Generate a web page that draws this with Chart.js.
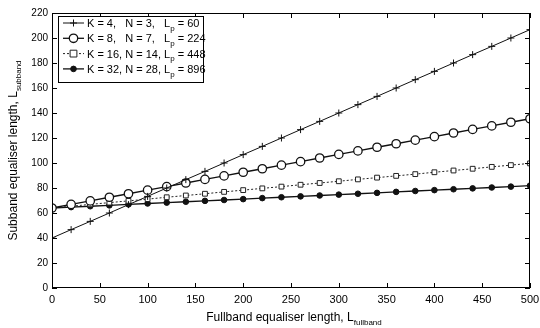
<!DOCTYPE html>
<html>
<head>
<meta charset="utf-8">
<script src="https://cdn.jsdelivr.net/npm/chart.js@4.4.1/dist/chart.umd.min.js"></script>
<style>
  html, body { margin: 0; padding: 0; background: #fff; }
  #wrap { width: 540px; height: 328px; }
</style>
</head>
<body>
<div id="wrap"><canvas id="myChart" width="540" height="328"></canvas></div>
<script>
// fullband equaliser length (x)
const fullband = [0, 20, 40, 60, 80, 100, 120, 140, 160, 180, 200, 220, 240, 260, 280, 300, 320, 340, 360, 380, 400, 420, 440, 460, 480, 500];

// subband equaliser length for each configuration
const k4 = [40, 46.7, 53.3, 60, 66.7, 73.3, 80, 86.7, 93.3, 100, 106.7, 113.3, 120, 126.7, 133.3, 140, 146.7, 153.3, 160, 166.7, 173.3, 180, 186.7, 193.3, 200, 206.7];
const k8 = [64, 66.9, 69.7, 72.6, 75.4, 78.3, 81.1, 84, 86.9, 89.7, 92.6, 95.4, 98.3, 101.1, 104, 106.9, 109.7, 112.6, 115.4, 118.3, 121.1, 124, 126.9, 129.7, 132.6, 135.4];
const k16 = [64, 65.4, 66.9, 68.3, 69.7, 71.1, 72.6, 74, 75.4, 76.9, 78.3, 79.7, 81.1, 82.6, 84, 85.4, 86.9, 88.3, 89.7, 91.1, 92.6, 94, 95.4, 96.9, 98.3, 99.7];
const k32 = [64, 64.7, 65.4, 66.1, 66.9, 67.6, 68.3, 69, 69.7, 70.4, 71.1, 71.9, 72.6, 73.3, 74, 74.7, 75.4, 76.1, 76.9, 77.6, 78.3, 79, 79.7, 80.4, 81.1, 81.9];

// legend text: [main, subscript, rest]
const legendLabels = [
    ['K = 4,   N = 3,   L', 'p', ' = 60'],
    ['K = 8,   N = 7,   L', 'p', ' = 224'],
    ['K = 16, N = 14, L', 'p', ' = 448'],
    ['K = 32, N = 28, L', 'p', ' = 896']
];

const xTitle = ['Fullband equaliser length, L', 'fullband'];
const yTitle = ['Subband equaliser length, L', 'subband'];

const FONT = '"Liberation Sans", Arial, sans-serif';

function toPoints(ys) {
    return fullband.map(function (x, i) { return { x: x, y: ys[i] }; });
}

const data = {
    datasets: [{
        data: toPoints(k4),
        borderColor: '#111',
        backgroundColor: '#111',
        borderWidth: 1,
        pointStyle: 'cross',
        pointRadius: 3.5,
        pointBorderWidth: 1
    }, {
        data: toPoints(k8),
        borderColor: '#111',
        backgroundColor: '#fff',
        borderWidth: 1.3,
        pointStyle: 'circle',
        pointRadius: 4.2,
        pointBorderWidth: 1.3
    }, {
        data: toPoints(k16),
        borderColor: '#222',
        backgroundColor: '#fff',
        borderWidth: 1,
        borderDash: [2, 2],
        pointStyle: 'rect',
        pointRadius: 3.4,
        pointBorderWidth: 1
    }, {
        data: toPoints(k32),
        borderColor: '#111',
        backgroundColor: '#111',
        borderWidth: 1.3,
        pointStyle: 'circle',
        pointRadius: 2.8,
        pointBorderWidth: 1
    }]
};

function drawMarker(ctx, ds, x, y) {
    ctx.save();
    ctx.setLineDash([]);
    ctx.lineWidth = ds.pointBorderWidth;
    ctx.strokeStyle = ds.borderColor;
    ctx.fillStyle = ds.backgroundColor;
    const r = ds.pointRadius;
    ctx.beginPath();
    if (ds.pointStyle === 'cross') {
        ctx.moveTo(x - r, y); ctx.lineTo(x + r, y);
        ctx.moveTo(x, y - r); ctx.lineTo(x, y + r);
        ctx.stroke();
    } else if (ds.pointStyle === 'rect') {
        ctx.rect(x - r, y - r, 2 * r, 2 * r);
        ctx.fill(); ctx.stroke();
    } else {
        ctx.arc(x, y, r, 0, Math.PI * 2);
        ctx.fill(); ctx.stroke();
    }
    ctx.restore();
}

// text with a subscript, drawn starting at x (left aligned, alphabetic baseline)
function subText(ctx, parts, x, y, size, subSize) {
    ctx.font = size + 'px ' + FONT;
    ctx.fillText(parts[0], x, y);
    let w = ctx.measureText(parts[0]).width;
    ctx.font = subSize + 'px ' + FONT;
    ctx.fillText(parts[1], x + w, y + subSize * 0.45);
    w += ctx.measureText(parts[1]).width;
    if (parts[2]) {
        ctx.font = size + 'px ' + FONT;
        ctx.fillText(parts[2], x + w, y);
        w += ctx.measureText(parts[2]).width;
    }
    return w;
}

function subWidth(ctx, parts, size, subSize) {
    ctx.font = size + 'px ' + FONT;
    let w = ctx.measureText(parts[0]).width;
    ctx.font = subSize + 'px ' + FONT;
    w += ctx.measureText(parts[1]).width;
    return w;
}

const framePlugin = {
    id: 'frame',
    afterDraw: function (chart) {
        const ctx = chart.ctx;
        const a = chart.chartArea;
        const xs = chart.scales.x, ys = chart.scales.y;
        ctx.save();
        ctx.strokeStyle = '#000';
        ctx.lineWidth = 1;
        ctx.setLineDash([]);
        ctx.strokeRect(a.left + 0.5, a.top + 0.5, a.right - a.left - 1, a.bottom - a.top - 1);

        // inward ticks on all four sides
        ctx.beginPath();
        xs.ticks.forEach(function (t) {
            const px = Math.round(xs.getPixelForValue(t.value)) + 0.5;
            ctx.moveTo(px, a.bottom); ctx.lineTo(px, a.bottom - 5);
            ctx.moveTo(px, a.top); ctx.lineTo(px, a.top + 5);
        });
        ys.ticks.forEach(function (t) {
            const py = Math.round(ys.getPixelForValue(t.value)) + 0.5;
            ctx.moveTo(a.left, py); ctx.lineTo(a.left + 5, py);
            ctx.moveTo(a.right, py); ctx.lineTo(a.right - 5, py);
        });
        ctx.stroke();

        // legend box
        const lx = 58, ly = 16, lw = 145, lh = 66;
        ctx.fillStyle = '#fff';
        ctx.fillRect(lx, ly, lw, lh);
        ctx.strokeRect(lx + 0.5, ly + 0.5, lw, lh);
        chart.data.datasets.forEach(function (ds, i) {
            const ry = ly + 7 + i * 15.3;
            ctx.save();
            ctx.strokeStyle = ds.borderColor;
            ctx.lineWidth = ds.borderWidth;
            ctx.setLineDash(ds.borderDash || []);
            ctx.beginPath();
            ctx.moveTo(63, ry); ctx.lineTo(84, ry);
            ctx.stroke();
            ctx.restore();
            drawMarker(ctx, ds, 73.5, ry);
            ctx.fillStyle = '#000';
            ctx.textBaseline = 'alphabetic';
            ctx.textAlign = 'left';
            subText(ctx, legendLabels[i], 87, ry + 4, 11, 8);
        });

        // axis titles
        ctx.fillStyle = '#000';
        ctx.textAlign = 'left';
        ctx.textBaseline = 'alphabetic';
        const xw = subWidth(ctx, xTitle, 12, 8);
        subText(ctx, xTitle, (a.left + a.right) / 2 - xw / 2 + 3, 321, 12, 8);

        const yw = subWidth(ctx, yTitle, 12, 8);
        ctx.translate(17, (a.top + a.bottom) / 2);
        ctx.rotate(-Math.PI / 2);
        subText(ctx, yTitle, -yw / 2, 0, 12, 8);
        ctx.restore();
    }
};

const config = {
    type: 'line',
    data: data,
    options: {
        responsive: false,
        animation: false,
        layout: {
            padding: { top: 13, right: 10, left: 0, bottom: 0 }
        },
        plugins: {
            legend: { display: false },
            tooltip: { enabled: false },
            title: { display: false }
        },
        scales: {
            x: {
                type: 'linear',
                min: 0,
                max: 500,
                grid: { display: false, drawTicks: false },
                border: { display: false },
                ticks: {
                    stepSize: 50,
                    padding: 5,
                    color: '#000',
                    maxRotation: 0,
                    font: { family: FONT, size: 11 }
                },
                afterFit: function (scale) {
                    scale.height = 40;
                    scale.paddingLeft = 0;
                    scale.paddingRight = 0;
                }
            },
            y: {
                min: 0,
                max: 220,
                grid: { display: false, drawTicks: false },
                border: { display: false },
                ticks: {
                    stepSize: 20,
                    padding: 4,
                    color: '#000',
                    font: { family: FONT, size: 10 }
                },
                afterFit: function (scale) {
                    scale.width = 52;
                    scale.paddingTop = 0;
                    scale.paddingBottom = 0;
                }
            }
        }
    },
    plugins: [framePlugin]
};

(function () {
    const myChart = new Chart(document.getElementById('myChart'), config);
})();
</script>
</body>
</html>
